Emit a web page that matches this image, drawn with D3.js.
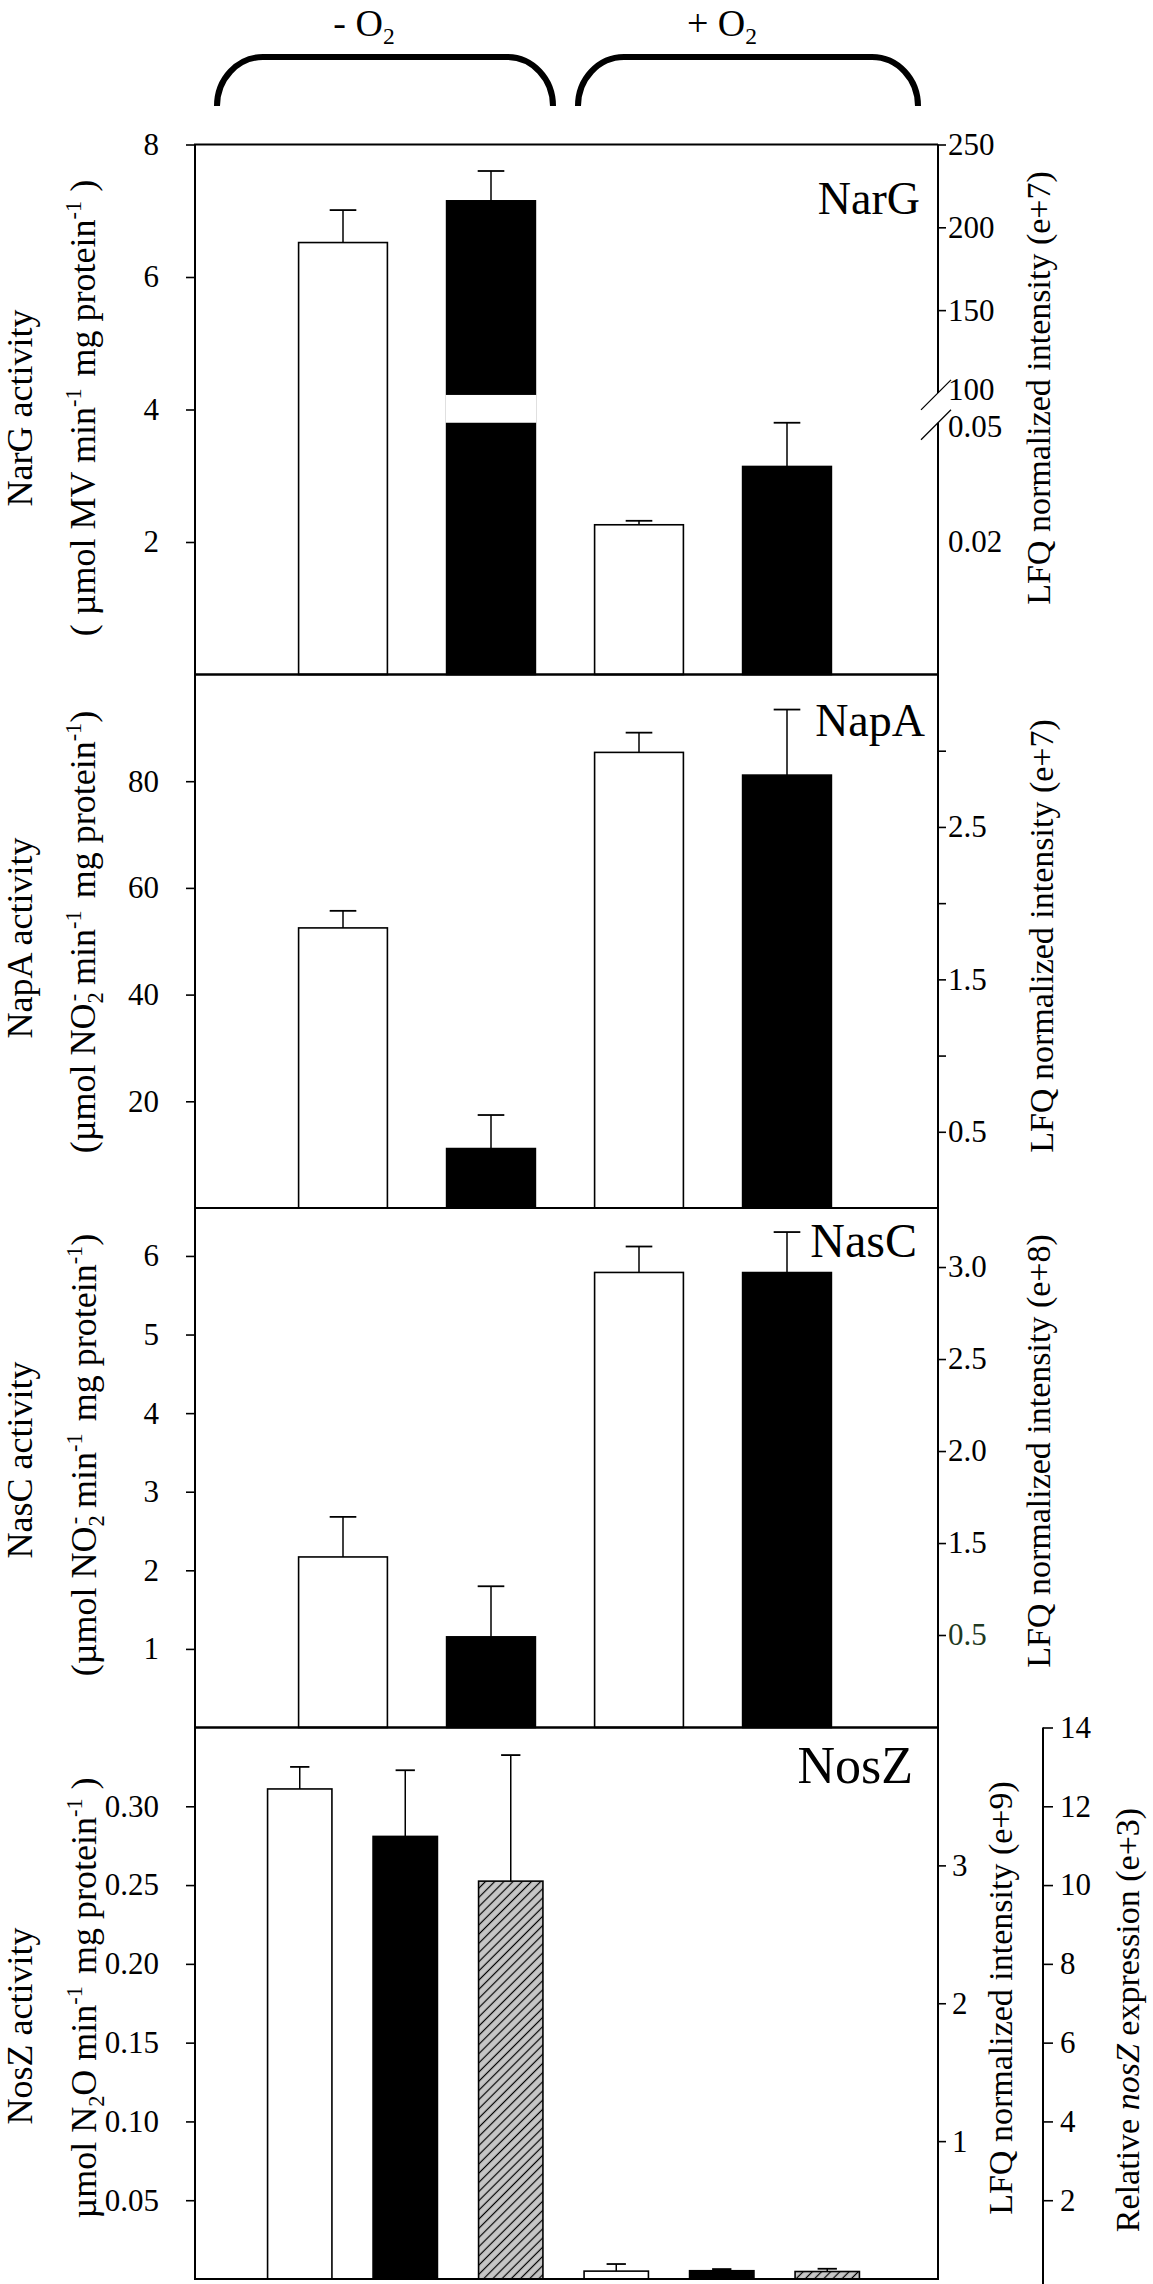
<!DOCTYPE html>
<html>
<head>
<meta charset="utf-8">
<script src="https://cdn.jsdelivr.net/npm/d3@7"></script>
<style>
  body { margin: 0; background: #fff; }
  svg { display: block; }
  svg text { font-family: "Liberation Serif", "Times New Roman", serif; }
</style>
</head>
<body>
<svg id="chart" width="1153" height="2284"></svg>
<script>
// ---- data ----
const conditions = ["- O", "+ O"]          // subscript 2 added when drawn
const bars4 = ["-O2 activity", "-O2 LFQ", "+O2 activity", "+O2 LFQ"]
const bars6 = ["-O2 activity", "-O2 LFQ", "-O2 expression", "+O2 activity", "+O2 LFQ", "+O2 expression"]

// NarG
const nargActivity = [6.52, 2.26]
const nargActivityErr = [0.49, 0.06]
const nargLFQ = [216, 0.039]
const nargLFQErr = [18, 0.011]
const nargLeftTicks = [2, 4, 6, 8]
const nargRightTicks = [0.02, 0.05, 100, 150, 200, 250]
const nargRightMarked = [150, 200, 250]

// NapA
const napaActivity = [52.5, 85.4]
const napaActivityErr = [3.2, 3.7]
const napaLFQ = [0.39, 2.84]
const napaLFQErr = [0.22, 0.43]
const napaLeftTicks = [20, 40, 60, 80]
const napaRightTicks = [0.5, 1.0, 1.5, 2.0, 2.5, 3.0]
const napaRightLabelled = [0.5, 1.5, 2.5]

// NasC
const nascActivity = [2.17, 5.79]
const nascActivityErr = [0.51, 0.33]
const nascLFQ = [0.49, 2.97]
const nascLFQErr = [0.54, 0.22]
const nascLeftTicks = [1, 2, 3, 4, 5, 6]
const nascRightTicks = [0.5, 1.5, 2.0, 2.5, 3.0]

// NosZ
const noszActivity = [0.311, 0.005]
const noszActivityErr = [0.014, 0.0045]
const noszLFQ = [3.21, 0.06]
const noszLFQErr = [0.48, 0.012]
const noszExpr = [10.1, 0.19]
const noszExprErr = [3.2, 0.07]
const noszLeftTicks = [0.05, 0.10, 0.15, 0.20, 0.25, 0.30]
const noszRightTicks = [1, 2, 3]
const noszExprTicks = [2, 4, 6, 8, 10, 12, 14]

// ---- layout ----
const W = 1153, H = 2284
const left = 195, right = 938
const edges = [144.5, 674.5, 1208, 1727.5, 2279]
const tickFont = 31
const serif = '"Liberation Serif", "Times New Roman", serif'

const svg = d3.select('#chart')
svg.append('rect').attr('width', W).attr('height', H).attr('fill', '#fff')

const pat = svg.append('defs').append('pattern')
  .attr('id', 'hatch')
  .attr('patternUnits', 'userSpaceOnUse')
  .attr('width', 6.5).attr('height', 6.5)
  .attr('patternTransform', 'rotate(45)')
pat.append('rect').attr('width', 6.5).attr('height', 6.5).attr('fill', '#c6c6c6')
pat.append('line').attr('x1', 3.25).attr('x2', 3.25).attr('y1', 0).attr('y2', 6.5)
  .attr('stroke', '#000').attr('stroke-width', 1.2)

const x4 = d3.scaleBand().domain(bars4).range([269, 861]).paddingInner(0.4).paddingOuter(0.2)
const x6 = d3.scaleBand().domain(bars6).range([247, 880]).paddingInner(0.39).paddingOuter(0.195)

// text with sub/superscripts
function rich(sel, parts, size) {
  let shift = 0
  parts.forEach(([t, kind, dx]) => {
    const ts = sel.append('tspan').text(t)
    let target = 0, fs = size
    if (kind === 'sup') { target = -0.4 * size; fs = 0.62 * size }
    if (kind === 'sub') { target = 0.22 * size; fs = 0.62 * size }
    if (kind === 'it') ts.style('font-style', 'italic')
    ts.attr('font-size', fs).attr('dy', target - shift)
    if (dx) ts.attr('dx', dx)
    shift = target
  })
}

function vtitle(x, cy, parts, size) {
  const t = svg.append('text')
    .attr('transform', `translate(${x},${cy}) rotate(-90)`)
    .attr('text-anchor', 'middle')
    .attr('font-size', size)
  rich(t, parts, size)
}

function drawBars(xs, bars) {
  const g = svg.append('g')
  const bw = xs.bandwidth()
  bars.forEach(b => {
    const y = b.y
    g.append('rect')
      .attr('x', xs(b.key)).attr('width', bw)
      .attr('y', y(b.v)).attr('height', y(0) - y(b.v))
      .attr('fill', b.fill)
      .attr('stroke', '#000').attr('stroke-width', 1.6)
    const cx = xs(b.key) + bw / 2
    g.append('line').attr('x1', cx).attr('x2', cx)
      .attr('y1', y(b.v)).attr('y2', y(b.v + b.e))
      .attr('stroke', '#000').attr('stroke-width', 1.5)
    g.append('line').attr('x1', cx - bw * 0.15).attr('x2', cx + bw * 0.15)
      .attr('y1', y(b.v + b.e)).attr('y2', y(b.v + b.e))
      .attr('stroke', '#000').attr('stroke-width', 1.8)
  })
  return g
}

function box(i) {
  svg.append('rect')
    .attr('x', left).attr('y', edges[i])
    .attr('width', right - left).attr('height', edges[i + 1] - edges[i])
    .attr('fill', 'none').attr('stroke', '#000').attr('stroke-width', 2)
}

function styleAxis(g) {
  g.attr('font-family', null)
  g.selectAll('.tick line').attr('stroke', '#000').attr('stroke-width', 1.6)
  g.selectAll('.tick text').attr('fill', '#000')
    .style('font-size', tickFont + 'px')
    .style('font-family', serif)
}

function leftAxis(y, ticks, fmt) {
  svg.append('g').attr('transform', `translate(${left},0)`)
    .call(d3.axisLeft(y).tickValues(ticks).tickFormat(fmt).tickSize(9).tickPadding(27))
    .call(g => g.select('.domain').remove())
    .call(styleAxis)
}

function rightAxis(y, ticks, fmt, x = right, pad = 2) {
  return svg.append('g').attr('transform', `translate(${x},0)`)
    .call(d3.axisRight(y).tickValues(ticks).tickFormat(fmt).tickSize(8).tickPadding(pad).tickSizeOuter(0))
    .call(g => g.select('.domain').remove())
    .call(styleAxis)
}

function panelName(name, x, y, size) {
  svg.append('text').attr('x', x).attr('y', y)
    .attr('text-anchor', 'end').attr('font-size', size).text(name)
}

function pairBars(act, actErr, lfq, lfqErr, yL, yR) {
  return conditions.flatMap((c, i) => [
    { key: bars4[i * 2], v: act[i], e: actErr[i], y: yL, fill: '#fff' },
    { key: bars4[i * 2 + 1], v: lfq[i], e: lfqErr[i], y: yR, fill: '#000' }
  ])
}

// ---- panel 1: NarG ----
{
  const yL = d3.scaleLinear().domain([0, 8]).range([edges[1], edges[0]])
  const brk = [3.8, 4.25]   // axis break, in activity units
  const yR = d3.scaleLinear().domain([0, 0.02, 0.05, 100, 250])
    .range([yL(0), yL(2), yL(brk[0]), yL(brk[1]), yL(8)])
  const bars = pairBars(nargActivity, nargActivityErr, nargLFQ, nargLFQErr, yL, yR)
  drawBars(x4, bars)
  // white gap where the tall bar crosses the break
  bars.filter(b => b.y === yR && b.v > 100)
    .forEach(b => svg.append('rect')
      .attr('x', x4(b.key) - 1).attr('width', x4.bandwidth() + 2)
      .attr('y', yL(brk[1]) + 2).attr('height', yL(brk[0]) - yL(brk[1]) - 2)
      .attr('fill', '#fff'))
  // box without the right edge (drawn with the break)
  svg.append('path')
    .attr('d', `M${right},${edges[0]} H${left} V${edges[1]} H${right}`)
    .attr('fill', 'none').attr('stroke', '#000').attr('stroke-width', 2)
  svg.append('line').attr('x1', right).attr('x2', right)
    .attr('y1', edges[0]).attr('y2', yR(100))
    .attr('stroke', '#000').attr('stroke-width', 2)
  svg.append('line').attr('x1', right).attr('x2', right)
    .attr('y1', yR(0.05)).attr('y2', edges[1])
    .attr('stroke', '#000').attr('stroke-width', 2)
  ;[yR(100), yR(0.05)].forEach(yb => svg.append('line')
    .attr('x1', right - 17).attr('y1', yb + 17)
    .attr('x2', right + 13).attr('y2', yb - 13)
    .attr('stroke', '#000').attr('stroke-width', 1.2))
  leftAxis(yL, nargLeftTicks, d3.format('d'))
  const rax = rightAxis(yR, nargRightTicks, d => String(d), right, 2)
  rax.selectAll('.tick').filter(d => !nargRightMarked.includes(d))
    .select('line').remove()
  // labels either side of the break sit a little apart, as in the figure
  rax.selectAll('.tick').filter(d => d === 100).select('text').attr('dy', '0.22em')
  rax.selectAll('.tick').filter(d => d === 0.05).select('text').attr('dy', '0.45em')
  panelName('NarG', 920, 214, 46)
  vtitle(32, 408, [['NarG activity']], 36)
  vtitle(95, 408, [['( µmol MV min'], ['-1', 'sup'], ['mg protein', null, 12], ['-1', 'sup'], [' )']], 36)
  vtitle(1050, 388, [['LFQ normalized intensity (e+7)']], 34)
}

// ---- panel 2: NapA ----
{
  const yL = d3.scaleLinear().domain([0, 100]).range([edges[2], edges[1]])
  const yR = d3.scaleLinear().domain([0, 3.5]).range([edges[2], edges[1]])
  drawBars(x4, pairBars(napaActivity, napaActivityErr, napaLFQ, napaLFQErr, yL, yR))
  box(1)
  leftAxis(yL, napaLeftTicks, d3.format('d'))
  rightAxis(yR, napaRightTicks, d => napaRightLabelled.includes(d) ? d3.format('.1f')(d) : '')
  panelName('NapA', 925, 736, 46)
  vtitle(32, 938, [['NapA activity']], 36)
  vtitle(95, 932, [['(µmol NO'], ['2', 'sub'], ['-', 'sup', -9], [' min'], ['-1', 'sup'],
    ['mg protein', null, 12], ['-1', 'sup'], [')']], 36)
  vtitle(1053, 936, [['LFQ normalized intensity (e+7)']], 34)
}

// ---- panel 3: NasC ----
{
  const yL = d3.scaleLinear().domain([0, 6.61]).range([edges[3], edges[2]])
  // right axis is not uniform: equal steps carry 0.5, 1.5, 2.0, 2.5, 3.0
  const yR = d3.scaleLinear().domain([0, 0.5, 1.5, 3.0])
    .range([yL(0), yL(1.177), yL(2.347), yL(5.859)])
  drawBars(x4, pairBars(nascActivity, nascActivityErr, nascLFQ, nascLFQErr, yL, yR))
  box(2)
  leftAxis(yL, nascLeftTicks, d3.format('d'))
  rightAxis(yR, nascRightTicks, d3.format('.1f'))
    .selectAll('.tick').filter(d => d === 0.5).select('text').attr('fill', '#1f3a1f')
  panelName('NasC', 917, 1257, 48)
  vtitle(32, 1460, [['NasC activity']], 36)
  vtitle(96, 1455, [['(µmol NO'], ['2', 'sub'], ['-', 'sup', -9], [' min'], ['-1', 'sup'],
    ['mg protein', null, 12], ['-1', 'sup'], [')']], 36)
  vtitle(1050, 1451, [['LFQ normalized intensity (e+8)']], 34)
}

// ---- panel 4: NosZ ----
{
  const yL = d3.scaleLinear().domain([0, 0.35]).range([edges[4], edges[3]])
  const yR = d3.scaleLinear().domain([0, 4]).range([edges[4], edges[3]])
  const yE = d3.scaleLinear().domain([0, 14]).range([edges[4], edges[3]])
  const bars = conditions.flatMap((c, i) => [
    { key: bars6[i * 3], v: noszActivity[i], e: noszActivityErr[i], y: yL, fill: '#fff' },
    { key: bars6[i * 3 + 1], v: noszLFQ[i], e: noszLFQErr[i], y: yR, fill: '#000' },
    { key: bars6[i * 3 + 2], v: noszExpr[i], e: noszExprErr[i], y: yE, fill: 'url(#hatch)' }
  ])
  drawBars(x6, bars)
  box(3)
  leftAxis(yL, noszLeftTicks, d3.format('.2f'))
  rightAxis(yR, noszRightTicks, d3.format('d'), right, 6)
  const ax = rightAxis(yE, noszExprTicks, d3.format('d'), 1043, 9)
  ax.append('line').attr('x1', 0).attr('x2', 0)
    .attr('y1', yE(14)).attr('y2', H)
    .attr('stroke', '#000').attr('stroke-width', 2)
  ax.selectAll('.tick line').attr('x2', 10)
  panelName('NosZ', 913, 1783, 52)
  vtitle(32, 2026, [['NosZ activity']], 36)
  vtitle(96, 1998, [['µmol N'], ['2', 'sub'], ['O min'], ['-1', 'sup'],
    ['mg protein', null, 12], ['-1', 'sup'], [' )']], 36)
  vtitle(1012, 1998, [['LFQ normalized intensity (e+9)']], 34)
  vtitle(1139, 2020, [['Relative '], ['nosZ', 'it'], [' expression (e+3)']], 34)
}

// ---- group braces ----
const braces = [[217, 553], [578, 918]]
braces.forEach(([x0, x1], i) => {
  const yb = 106, yt = 57, r = 46
  svg.append('path')
    .attr('d', `M${x0},${yb} A${r},${yb - yt} 0 0 1 ${x0 + r},${yt} H${x1 - r} A${r},${yb - yt} 0 0 1 ${x1},${yb}`)
    .attr('fill', 'none').attr('stroke', '#000').attr('stroke-width', 6)
  const t = svg.append('text')
    .attr('x', [364, 722][i]).attr('y', 36)
    .attr('text-anchor', 'middle').attr('font-size', 38)
  rich(t, [[conditions[i]], ['2', 'sub']], 38)
})
</script>
</body>
</html>
